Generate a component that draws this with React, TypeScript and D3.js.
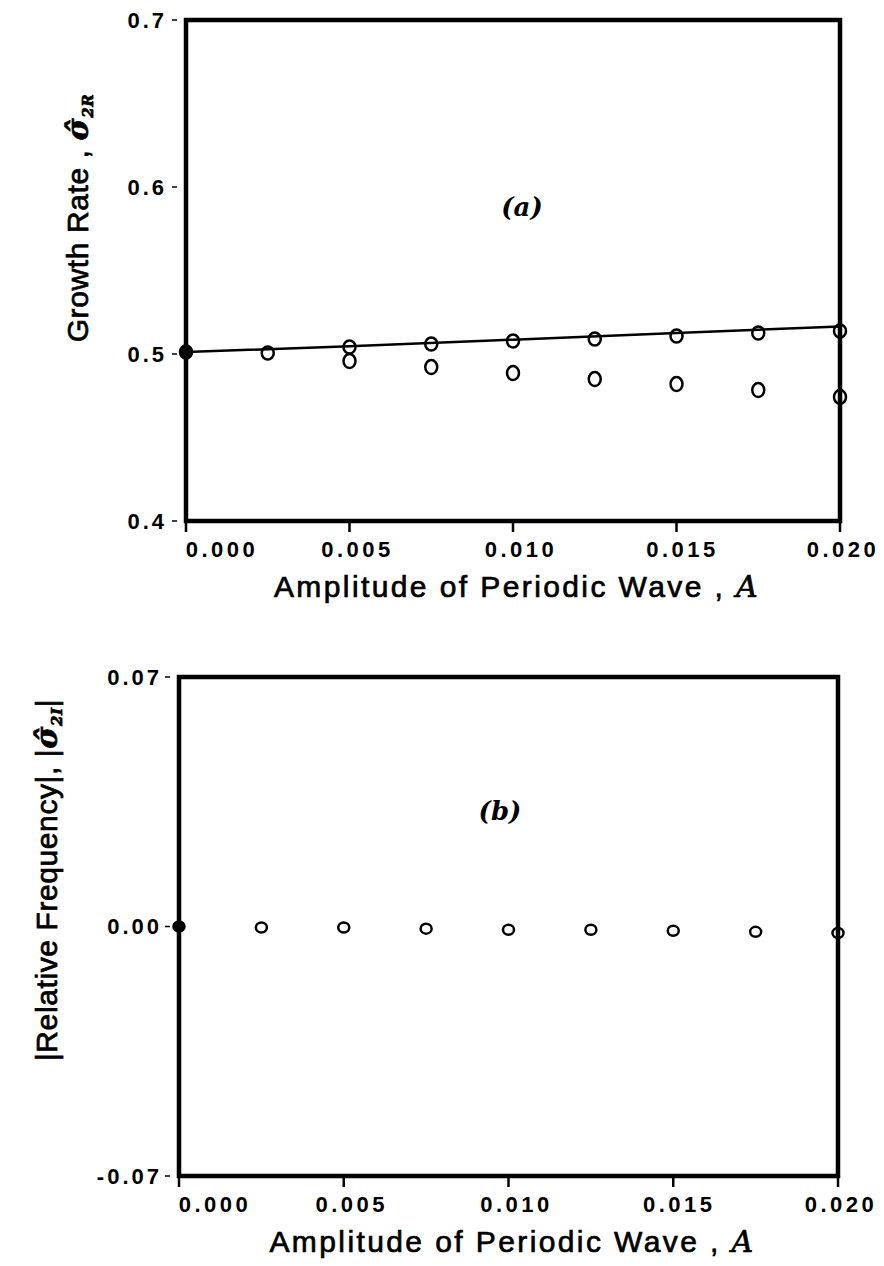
import React from "react";
import * as d3 from "d3";

const amplitudes = [0, 0.0025, 0.005, 0.0075, 0.01, 0.0125, 0.015, 0.0175, 0.02];
const growthUpper = [0.5012, 0.5006, 0.5042, 0.506, 0.5078, 0.509, 0.5108, 0.5126, 0.5138];
const growthLowerX = [0.005, 0.0075, 0.01, 0.0125, 0.015, 0.0175, 0.02];
const growthLower = [0.4958, 0.4922, 0.4886, 0.485, 0.482, 0.4784, 0.4743];
const theoryX = [0, 0.005, 0.01, 0.015, 0.02];
const theoryY = [0.5012, 0.5046, 0.5086, 0.5126, 0.5165];
const freqValues = [0, -0.0003, -0.0003, -0.0006, -0.0009, -0.0009, -0.0012, -0.0015, -0.0018];
const xTicks = [0, 0.005, 0.01, 0.015, 0.02];
const xTickLabels = ["0.000", "0.005", "0.010", "0.015", "0.020"];
const yTicksA = [0.4, 0.5, 0.6, 0.7];
const yTickLabelsA = ["0.4", "0.5", "0.6", "0.7"];
const yTicksB = [-0.07, 0, 0.07];
const yTickLabelsB = ["-0.07", "0.00", "0.07"];

const FONT = "'Liberation Sans', Arial, sans-serif";
const SERIF = "'DejaVu Serif', serif";
const labelShift = [36, 8, 8, 6, 3];

function Panel({ left, right, top, bottom, yDomain, yTicks, yLabels, children, yTitle, yTitleX, yTitleY, tag, tagPos, yTickLabelX }) {
  const x = d3.scaleLinear().domain([0, 0.02]).range([left, right]);
  const y = d3.scaleLinear().domain(yDomain).range([bottom, top]);
  return (
    <g>
      <rect x={left} y={top} width={right - left} height={bottom - top} fill="none" stroke="#000" strokeWidth={4.5} />
      {yTicks.map((t, i) => (
        <g key={"yt" + i}>
          <line x1={left - 14} x2={left - 9} y1={y(t)} y2={y(t)} stroke="#000" strokeWidth={1.5} />
          <text x={yTickLabelX} y={y(t)} dy="0.36em" textAnchor="end" fontFamily={FONT} fontWeight="bold" fontSize={22} letterSpacing={3}>{yLabels[i]}</text>
        </g>
      ))}
      {xTicks.map((t, i) => (
        <g key={"xt" + i}>
          <line x1={x(t)} x2={x(t)} y1={bottom} y2={bottom + 11} stroke="#000" strokeWidth={2.5} />
          <text x={x(t) + labelShift[i]} y={bottom + 36} textAnchor="middle" fontFamily={FONT} fontWeight="bold" fontSize={22} letterSpacing={3.5}>{xTickLabels[i]}</text>
        </g>
      ))}
      <text x={(left + right) / 2 + 4} y={bottom + 76} textAnchor="middle" fontFamily={FONT} fontSize={30} letterSpacing={2.4} stroke="#000" strokeWidth={0.7}>
        Amplitude of Periodic Wave , <tspan fontFamily={SERIF} fontStyle="italic">A</tspan>
      </text>
      <text transform={`translate(${yTitleX},${yTitleY}) rotate(-90)`} textAnchor="middle" fontFamily={FONT} fontSize={30} letterSpacing={0.6} stroke="#000" strokeWidth={0.7}>
        {yTitle}
      </text>
      <text x={tagPos[0]} y={tagPos[1]} textAnchor="middle" fontFamily={SERIF} fontStyle="italic" fontWeight="bold" fontSize={26}>{tag}</text>
      {children(x, y)}
    </g>
  );
}

export default function App() {
  return (
    <svg width={884} height={1266} style={{ position: "absolute", left: 0, top: 0, background: "#fff" }}>
      <Panel
        left={186} right={840} top={20} bottom={521}
        yDomain={[0.4, 0.7]} yTicks={yTicksA} yLabels={yTickLabelsA}
        yTitleX={88} yTitleY={218} yTickLabelX={167}
        yTitle={<>Growth Rate , <tspan fontFamily={SERIF} fontStyle="italic" fontWeight="bold">σ̂</tspan><tspan fontFamily={SERIF} fontStyle="italic" fontWeight="bold" fontSize={15} dy={5}>2R</tspan></>}
        tag="(a)" tagPos={[522, 216]}
      >
        {(x, y) => {
          const line = d3.line<number>().x((_, i) => x(theoryX[i])).y((d) => y(d));
          return (
            <g>
              <path d={line(theoryY) || ""} fill="none" stroke="#000" strokeWidth={2.5} />
              {amplitudes.map((a, i) => (
                <ellipse key={"u" + i} cx={x(a)} cy={y(growthUpper[i])} rx={6} ry={6.5} fill={i === 0 ? "#000" : "none"} stroke="#000" strokeWidth={2.5} />
              ))}
              {growthLowerX.map((a, i) => (
                <ellipse key={"l" + i} cx={x(a)} cy={y(growthLower[i])} rx={6} ry={7} fill="none" stroke="#000" strokeWidth={2.5} />
              ))}
            </g>
          );
        }}
      </Panel>
      <Panel
        left={179} right={838} top={677} bottom={1176}
        yDomain={[-0.07, 0.07]} yTicks={yTicksB} yLabels={yTickLabelsB}
        yTitleX={57} yTitleY={880} yTickLabelX={162}
        yTitle={<>|Relative Frequency|, |<tspan fontFamily={SERIF} fontStyle="italic" fontWeight="bold">σ̂</tspan><tspan fontFamily={SERIF} fontStyle="italic" fontWeight="bold" fontSize={15} dy={5}>2I</tspan><tspan dy={-5}>|</tspan></>}
        tag="(b)" tagPos={[500, 820]}
      >
        {(x, y) => (
          <g>
            {amplitudes.map((a, i) => (
              <ellipse key={"f" + i} cx={x(a)} cy={y(freqValues[i])} rx={5.5} ry={5} fill={i === 0 ? "#000" : "none"} stroke="#000" strokeWidth={2.5} />
            ))}
          </g>
        )}
      </Panel>
    </svg>
  );
}
